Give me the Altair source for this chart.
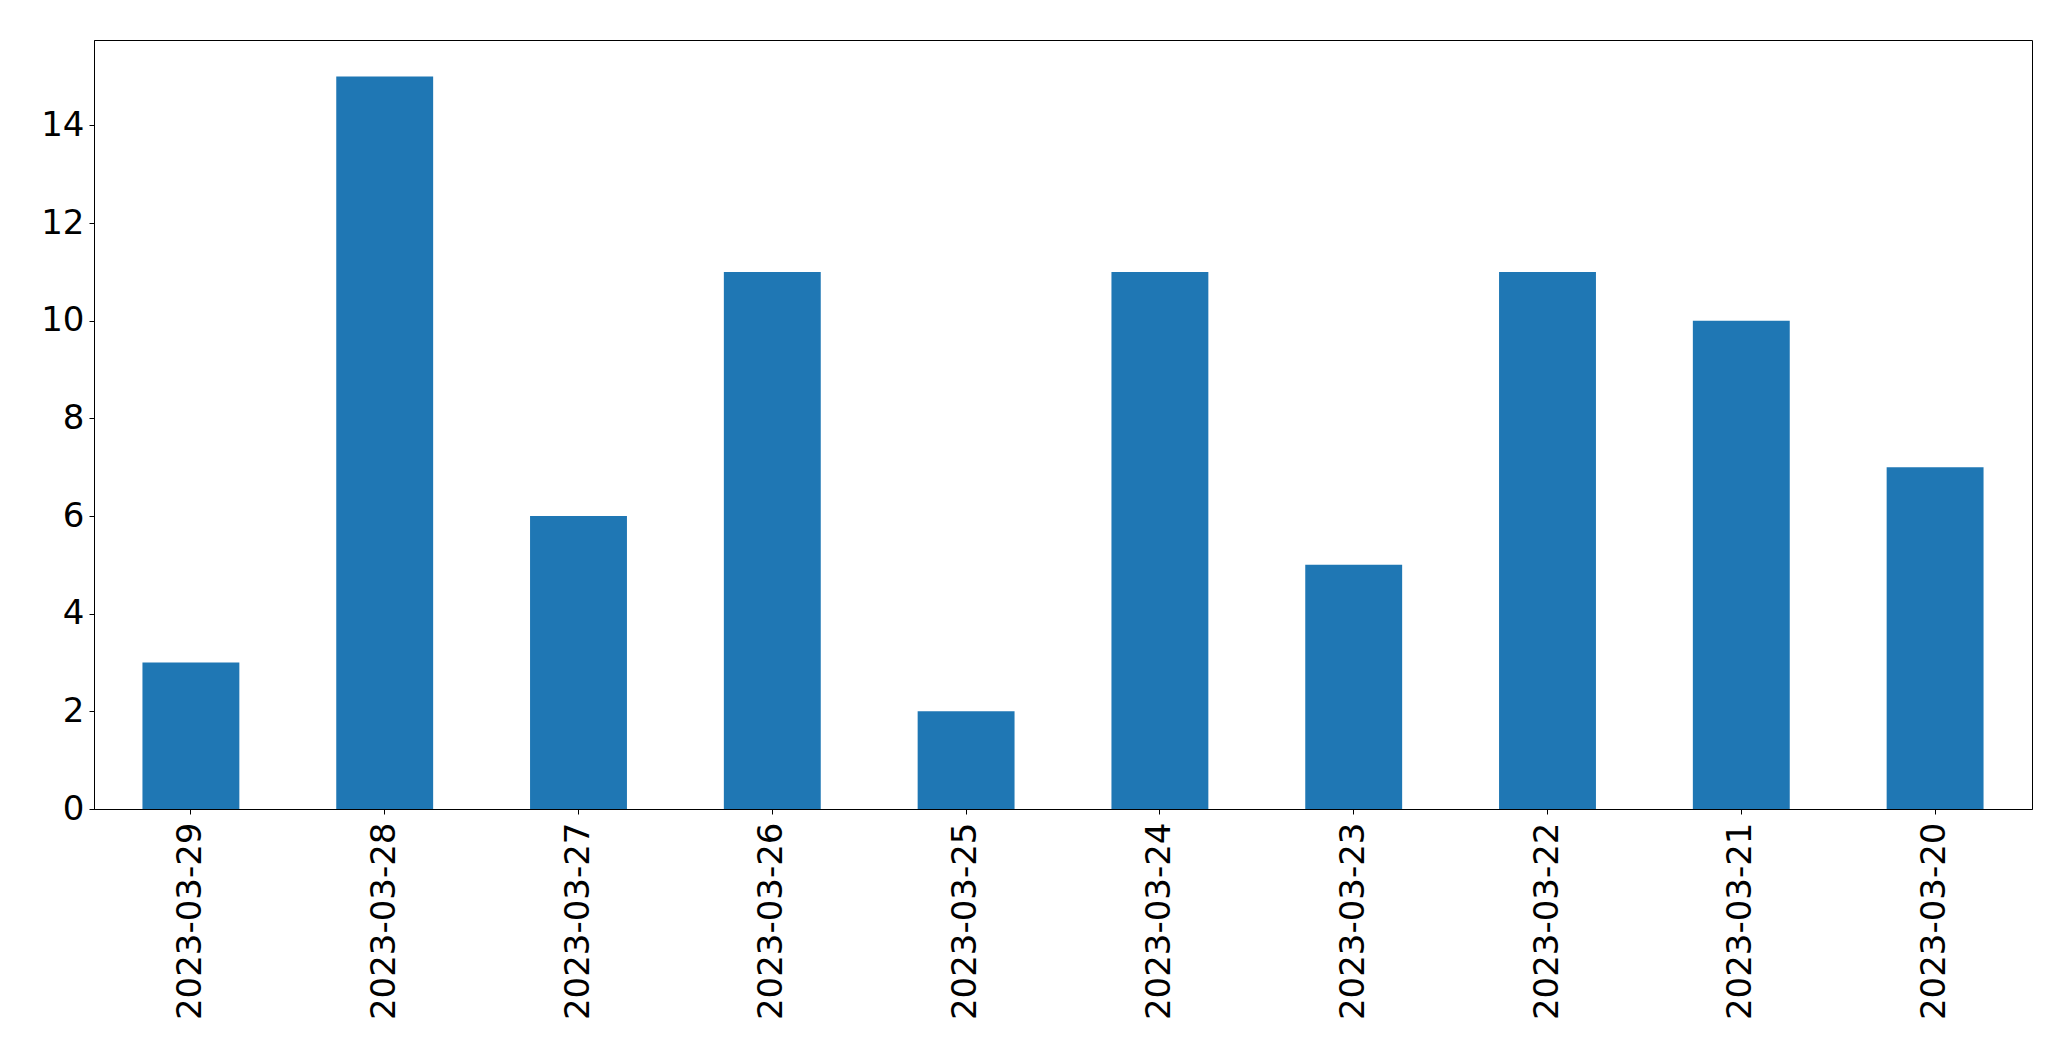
import altair as alt
import pandas as pd

dates = ["2023-03-29", "2023-03-28", "2023-03-27", "2023-03-26", "2023-03-25",
         "2023-03-24", "2023-03-23", "2023-03-22", "2023-03-21", "2023-03-20"]
counts = [3, 15, 6, 11, 2, 11, 5, 11, 10, 7]
y_ticks = [0, 2, 4, 6, 8, 10, 12, 14]

df = pd.DataFrame({"date": dates, "count": counts})

chart = alt.Chart(df).mark_bar(color="#1f77b4").encode(
    x=alt.X("date:N", sort=dates, title=None,
            scale=alt.Scale(paddingInner=0.5, paddingOuter=0.25),
            axis=alt.Axis(labelAngle=-90, labelFontSize=34, labelFont="DejaVu Sans",
                          labelColor="black", tickColor="black", domainColor="black",
                          tickSize=5, labelPadding=8, labelLimit=0, grid=False)),
    y=alt.Y("count:Q", title=None,
            scale=alt.Scale(domain=[0, 15.75], nice=False, zero=True),
            axis=alt.Axis(values=y_ticks, labelFontSize=34, labelFont="DejaVu Sans",
                          labelColor="black", tickColor="black", domainColor="black",
                          tickSize=5, labelPadding=5, grid=False)),
).properties(
    width=1938, height=769,
    autosize=alt.AutoSizeParams(type="none"),
    padding={"left": 86, "top": 32, "right": 30, "bottom": 230},
).configure_view(
    stroke="black", strokeWidth=1
).configure_axis(
    domainWidth=1, tickWidth=1
)

chart.save("out.html", embed_options={"renderer": "svg", "actions": False})
